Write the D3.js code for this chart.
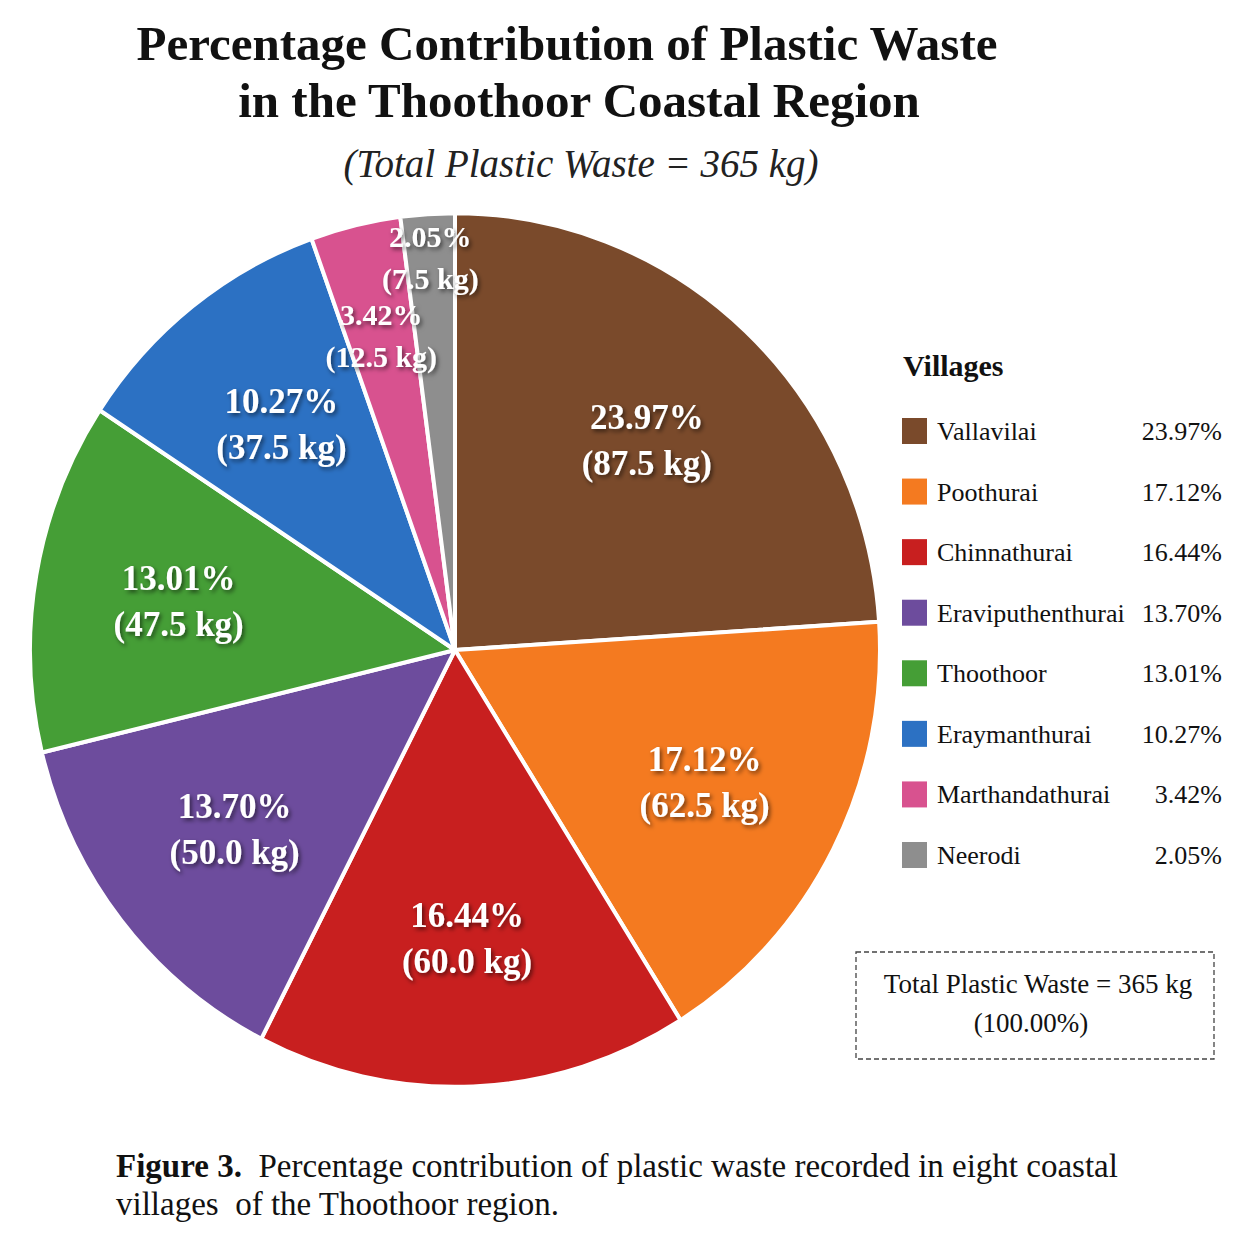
<!DOCTYPE html>
<html>
<head>
<meta charset="utf-8">
<script src="https://cdn.jsdelivr.net/npm/d3@7"></script>
<style>
  html, body { margin: 0; padding: 0; background: #ffffff; }
  svg { display: block; }
  text { font-family: "Liberation Serif", "Times New Roman", serif; }
</style>
</head>
<body>
<svg id="chart" width="1254" height="1254"></svg>
<script>
// ---- Data ----
const villages = ["Vallavilai", "Poothurai", "Chinnathurai", "Eraviputhenthurai", "Thoothoor", "Eraymanthurai", "Marthandathurai", "Neerodi"];
const wasteKg = [87.5, 62.5, 60.0, 50.0, 47.5, 37.5, 12.5, 7.5];
const percentLabels = ["23.97%", "17.12%", "16.44%", "13.70%", "13.01%", "10.27%", "3.42%", "2.05%"];
const colors = ["#7a4a2b", "#f47a20", "#c81f1f", "#6d4c9d", "#459e36", "#2c71c3", "#d8528f", "#8e8e8e"];
const totalKg = 365;
const titleLines = ["Percentage Contribution of Plastic Waste", "in the Thoothoor Coastal Region"];
const subtitle = "(Total Plastic Waste = 365 kg)";
const legendTitle = "Villages";
const boxLines = ["Total Plastic Waste = 365 kg", "(100.00%)"];
const captionBold = "Figure 3.";
const captionLines = ["Percentage contribution of plastic waste recorded in eight coastal", "villages  of the Thoothoor region."];

const rows = villages.map((v, i) => ({ name: v, kg: wasteKg[i], pct: percentLabels[i], color: colors[i] }));

const svg = d3.select("#chart");

// drop shadow filter
const defs = svg.append("defs");
const f = defs.append("filter").attr("id", "shadow").attr("x", "-20%").attr("y", "-20%").attr("width", "140%").attr("height", "140%");
f.append("feDropShadow").attr("dx", 2).attr("dy", 2.5).attr("stdDeviation", 2.2)
  .attr("flood-color", "#000").attr("flood-opacity", 0.55);

// ---- Titles ----
svg.append("text").attr("x", 567).attr("y", 60).attr("text-anchor", "middle")
  .attr("font-size", 49).attr("font-weight", "bold").attr("fill", "#111").text(titleLines[0]);
svg.append("text").attr("x", 579).attr("y", 117).attr("text-anchor", "middle")
  .attr("font-size", 49).attr("font-weight", "bold").attr("fill", "#111").text(titleLines[1]);
svg.append("text").attr("x", 581).attr("y", 177).attr("text-anchor", "middle")
  .attr("font-size", 39).attr("font-style", "italic").attr("fill", "#222").text(subtitle);

// ---- Pie ----
const cx = 455, cy = 650, R = 425, ky = 1.028;
const pie = d3.pie().value(d => d.kg).sort(null);
const arcs = pie(rows);
const arc = d3.arc().innerRadius(0).outerRadius(R);

const gPie = svg.append("g").attr("transform", `translate(${cx},${cy}) scale(1,${ky})`);
gPie.selectAll("path").data(arcs).join("path")
  .attr("d", arc)
  .attr("fill", d => d.data.color)
  .attr("stroke", "#ffffff")
  .attr("stroke-width", 4)
  .attr("stroke-linejoin", "round");

// ---- Slice labels ----
const gLab = svg.append("g").attr("filter", "url(#shadow)");
function posAt(d, rf) {
  const a = (d.startAngle + d.endAngle) / 2;
  return [cx + rf * R * Math.sin(a), cy - rf * R * ky * Math.cos(a)];
}
const placed = [];
function boxOf(x, y, w, fs, gap) {
  return { x0: x - w / 2, x1: x + w / 2, y0: y - gap / 2 - 0.35 * fs, y1: y + gap / 2 + 0.57 * fs };
}
function overlaps(b) {
  return placed.some(p => !(b.x1 < p.x0 || b.x0 > p.x1 || b.y1 < p.y0 || b.y0 > p.y1));
}
// big slices first, then small ones from the smallest up
const isBig = d => d.data.kg / totalKg >= 0.05;
const order = arcs.map((d, i) => i).sort((a, b) => {
  const sa = isBig(arcs[a]), sb = isBig(arcs[b]);
  if (sa !== sb) return sa ? -1 : 1;
  return sa ? 0 : arcs[a].data.kg - arcs[b].data.kg;
});
order.forEach(i => {
  const d = arcs[i];
  const big = isBig(d);
  const fs = big ? 35 : 30, gap = big ? 46 : 42;
  const g = gLab.append("g");
  const t1 = g.append("text").attr("text-anchor", "middle").attr("font-size", fs)
    .attr("font-weight", "bold").attr("fill", "#fff").text(d.data.pct);
  const t2 = g.append("text").attr("text-anchor", "middle").attr("font-size", fs)
    .attr("font-weight", "bold").attr("fill", "#fff").text(`(${d.data.kg.toFixed(1)} kg)`);
  const w = Math.max(t1.node().getComputedTextLength(), t2.node().getComputedTextLength());
  const cands = big ? [0.66] : [0.9, 0.84, 0.78, 0.74, 0.7, 0.66, 0.62];
  let chosen = null;
  for (const rf of cands) {
    const [x, y] = posAt(d, rf);
    const b = boxOf(x, y, w, fs, gap);
    if (!overlaps(b)) { chosen = [x, y, b]; break; }
  }
  if (!chosen) { const [x, y] = posAt(d, cands[0]); chosen = [x, y, boxOf(x, y, w, fs, gap)]; }
  placed.push(chosen[2]);
  const [x, y] = chosen;
  t1.attr("x", x).attr("y", y - gap / 2 + fs * 0.35);
  t2.attr("x", x).attr("y", y + gap / 2 + fs * 0.35);
});

// ---- Legend ----
const lg = svg.append("g");
lg.append("text").attr("x", 903).attr("y", 376).attr("font-size", 30)
  .attr("font-weight", "bold").attr("fill", "#111").text(legendTitle);
const legendY = d3.scalePoint().domain(villages).range([431, 855]);
const item = lg.selectAll("g.item").data(rows).join("g").attr("class", "item")
  .attr("transform", d => `translate(0,${legendY(d.name)})`);
item.append("rect").attr("x", 902).attr("y", -13).attr("width", 25).attr("height", 26)
  .attr("fill", d => d.color);
item.append("text").attr("x", 937).attr("y", 9).attr("font-size", 26).attr("fill", "#111").text(d => d.name);
item.append("text").attr("x", 1222).attr("y", 9).attr("font-size", 26).attr("text-anchor", "end")
  .attr("fill", "#111").text(d => d.pct);

// ---- Total box ----
svg.append("rect").attr("x", 856).attr("y", 952).attr("width", 358).attr("height", 107)
  .attr("fill", "none").attr("stroke", "#444").attr("stroke-width", 1.3).attr("stroke-dasharray", "5,3");
svg.append("text").attr("x", 1038).attr("y", 993).attr("text-anchor", "middle")
  .attr("font-size", 27).attr("fill", "#111").text(boxLines[0]);
svg.append("text").attr("x", 1031).attr("y", 1032).attr("text-anchor", "middle")
  .attr("font-size", 27).attr("fill", "#111").text(boxLines[1]);

// ---- Caption ----
const cap = svg.append("text").attr("x", 116).attr("y", 1177).attr("font-size", 33).attr("fill", "#111");
cap.append("tspan").attr("font-weight", "bold").text(captionBold);
cap.append("tspan").text("\u00a0 " + captionLines[0]);
svg.append("text").attr("x", 116).attr("y", 1215).attr("font-size", 33).attr("fill", "#111")
  .style("white-space", "pre").text(captionLines[1]);
</script>
</body>
</html>
